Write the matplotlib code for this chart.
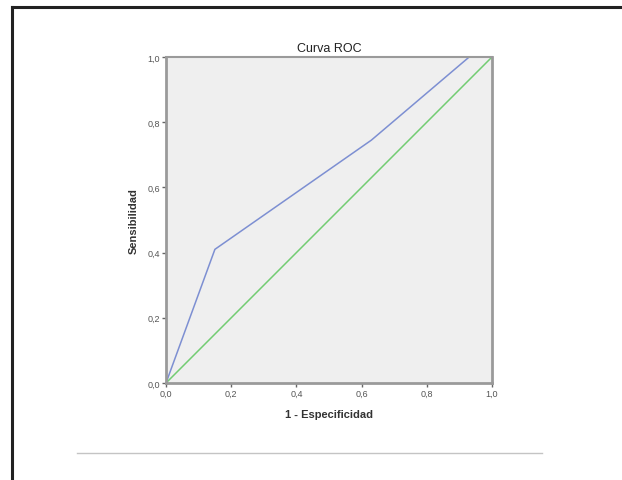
import numpy as np
import matplotlib.pyplot as plt
from matplotlib.lines import Line2D

plt.rcParams['font.family'] = ['Liberation Sans', 'DejaVu Sans']

# ROC curve
fpr = [0.0, 0.15, 0.63, 0.93, 1.0]
tpr = [0.0, 0.41, 0.745, 1.0, 1.0]
ref = [0.0, 1.0]
ticks = [0.0, 0.2, 0.4, 0.6, 0.8, 1.0]
tick_labels = ['0,0', '0,2', '0,4', '0,6', '0,8', '1,0']

fig = plt.figure(figsize=(6.22, 4.81), dpi=100)
ax = fig.add_axes([166 / 622, 1 - 384 / 481, 326 / 622, 326 / 481])
ax.set_facecolor('#efefef')

ax.plot(ref, ref, color='#72cc72', linewidth=1.1)
ax.plot(fpr, tpr, color='#7d8fd2', linewidth=1.1)

ax.set_xlim(0, 1)
ax.set_ylim(0, 1)
ax.set_xticks(ticks)
ax.set_yticks(ticks)
ax.set_xticklabels(tick_labels)
ax.set_yticklabels(tick_labels)
ax.tick_params(length=3, width=1, color='#666666', labelsize=6.5, labelcolor='#555555', pad=1.5)
for s in ax.spines.values():
    s.set_color('#9a9a9a')
    s.set_linewidth(2)
ax.spines['top'].set_linewidth(1.5)

ax.set_title('Curva ROC', fontsize=9, pad=4, color='#222222')
ax.set_xlabel('1 - Especificidad', fontsize=8, fontweight='bold', labelpad=8, color='#333333')
ax.set_ylabel('Sensibilidad', fontsize=8, fontweight='bold', labelpad=6, color='#333333')

# page frame and separator line
fig.add_artist(Line2D([12 / 622, 12 / 622], [0, 1 - 8 / 481], color='#222222', linewidth=2.2))
fig.add_artist(Line2D([12 / 622, 1], [1 - 8 / 481, 1 - 8 / 481], color='#222222', linewidth=2.2))
fig.add_artist(Line2D([77 / 622, 542 / 622], [1 - 454 / 481, 1 - 454 / 481], color='#c4c4c4', linewidth=1))

plt.savefig('out.png', dpi=100)
